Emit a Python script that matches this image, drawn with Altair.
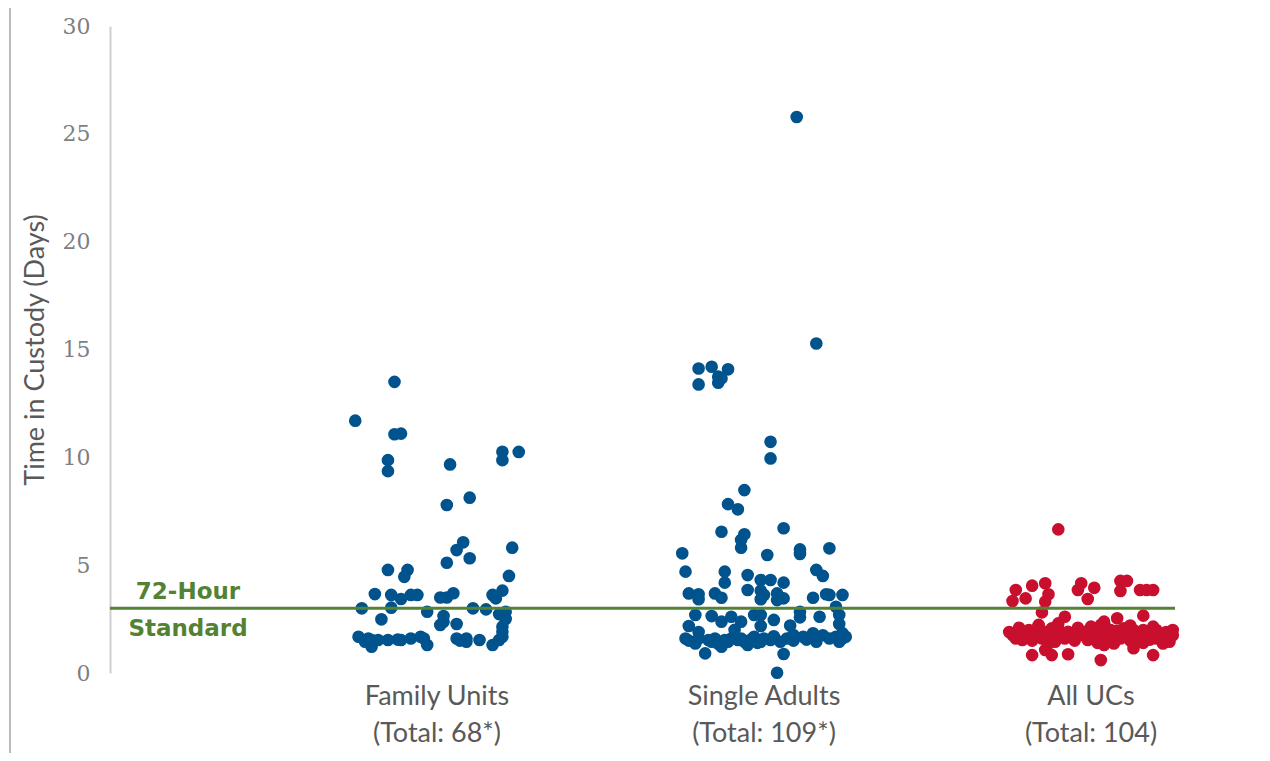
import altair as alt
import pandas as pd

# ---- data (days in custody + horizontal jitter as fraction of category spacing)
groups = ["Family Units", "Single Adults", "All UCs"]
group_labels = ["Family Units\n(Total: 68*)", "Single Adults\n(Total: 109*)", "All UCs\n(Total: 104)"]
group_pos = [1, 2, 3]
group_colors = ["#00538C", "#00538C", "#C8102E"]

family_jitter = [-0.25, -0.13, -0.13, -0.11, -0.15, -0.15, 0.04, 0.03, 0.10, 0.20, 0.20, 0.25,
                 0.08, 0.06, 0.03, 0.10, 0.23, 0.22, -0.15, -0.09, -0.10, -0.19, -0.14, -0.11,
                 -0.08, -0.06, 0.01, 0.03, 0.05, 0.17, 0.18, 0.20, -0.23, -0.14, -0.03, 0.11,
                 0.15, 0.19, 0.21, -0.17, 0.02, 0.02, 0.01, 0.06, 0.20, -0.24, -0.21, -0.20,
                 -0.20, -0.18, -0.15, -0.11, -0.08, -0.05, -0.04, -0.03, 0.06, 0.09, 0.09, 0.13,
                 0.17, 0.19, 0.20, 0.20, -0.22, -0.12, 0.07, 0.21]
family_days = [11.7, 13.5, 11.07, 11.1, 9.87, 9.36, 9.67, 7.79, 8.13, 10.26, 9.87, 10.25,
               6.06, 5.7, 5.11, 5.32, 5.81, 4.5, 4.78, 4.78, 4.46, 3.66, 3.62, 3.43,
               3.62, 3.62, 3.5, 3.5, 3.7, 3.62, 3.46, 3.82, 3.0, 3.03, 2.84, 3.0,
               2.95, 2.73, 2.84, 2.49, 2.64, 2.38, 2.23, 2.27, 2.15, 1.68, 1.6, 1.53,
               1.22, 1.53, 1.53, 1.53, 1.6, 1.68, 1.6, 1.3, 1.6, 1.6, 1.45, 1.53,
               1.3, 1.53, 1.68, 1.91, 1.45, 1.55, 1.5, 2.5]

single_jitter = [0.10, 0.16, -0.20, -0.16, -0.11, -0.14, -0.13, -0.14, -0.20, 0.02, 0.02, -0.06,
                 -0.11, -0.08, -0.13, 0.06, -0.06, -0.07, -0.07, -0.25, 0.01, 0.11, 0.11, 0.20,
                 -0.24, -0.12, -0.12, -0.05, -0.01, 0.02, 0.06, 0.16, 0.18, -0.23, -0.20, -0.20,
                 -0.15, -0.13, -0.05, -0.01, 0.00, -0.01, 0.04, 0.04, 0.06, 0.15, 0.19, 0.20,
                 0.24, 0.22, 0.11, -0.21, -0.16, -0.13, -0.10, -0.07, -0.03, -0.01, -0.01, 0.03,
                 0.11, 0.17, 0.23, 0.23, -0.23, -0.24, -0.21, -0.18, -0.17, -0.15, -0.13, -0.12,
                 -0.10, -0.08, -0.06, -0.05, -0.03, -0.01, 0.02, 0.07, 0.09, 0.12, 0.15, 0.16,
                 0.22, 0.24, 0.25, 0.06, 0.04, -0.23, -0.20, -0.16, -0.14, -0.11, -0.07, -0.04,
                 -0.02, 0.00, 0.03, 0.05, 0.09, 0.13, 0.18, 0.20, 0.23, 0.24, -0.20, -0.09, 0.08]
single_days = [25.78, 15.28, 14.12, 14.2, 14.08, 13.74, 13.66, 13.46, 13.38, 10.72, 9.95, 8.48,
               7.83, 7.59, 6.55, 6.71, 6.43, 6.17, 5.81, 5.55, 5.47, 5.73, 5.52, 5.78,
               4.7, 4.7, 4.19, 4.54, 4.31, 4.31, 4.19, 4.78, 4.5, 3.69, 3.65, 3.42,
               3.69, 3.49, 3.85, 3.82, 3.62, 3.42, 3.69, 3.38, 3.46, 3.49, 3.65, 3.62,
               3.62, 3.07, 2.84, 2.69, 2.64, 2.38, 2.61, 2.38, 2.69, 2.69, 2.18, 2.46,
               2.58, 2.61, 2.69, 2.27, 2.18, 1.6, 1.37, 0.91, 1.53, 1.6, 1.22, 1.53,
               1.6, 1.53, 1.45, 1.3, 1.68, 1.45, 1.53, 1.6, 1.76, 1.68, 1.84, 1.45,
               1.68, 1.6, 1.68, 0.88, 0.01, 1.5, 1.6, 1.45, 1.35, 1.45, 1.6, 1.55,
               1.4, 1.6, 1.7, 1.45, 1.5, 1.55, 1.75, 1.6, 1.45, 1.85, 1.9, 2.0, 2.2]

uc_jitter = [-0.10, -0.23, -0.24, -0.20, -0.18, -0.14, -0.13, -0.14, -0.03, -0.04, 0.01, -0.01,
             0.09, 0.11, 0.09, 0.15, 0.17, 0.19, -0.15, -0.08, 0.16, 0.08, 0.04,
             -0.24, -0.22, -0.21, -0.19, -0.17, -0.16, -0.13, -0.12, -0.10, -0.09, -0.07, -0.06,
             -0.04, -0.03, -0.01, 0.00, 0.02, 0.03, 0.04, 0.06, 0.07, 0.10, 0.11, 0.13,
             0.14, 0.16, 0.17, 0.20, 0.20, 0.22, 0.24, 0.25,
             -0.18, -0.14, -0.12, -0.07, 0.03, 0.13, 0.19,
             -0.25, -0.23, -0.21, -0.20, -0.18, -0.17, -0.15, -0.14, -0.12, -0.11, -0.10, -0.08,
             -0.07, -0.05, -0.04, -0.02, -0.01, 0.01, 0.02, 0.03, 0.05, 0.06, 0.07, 0.08,
             0.09, 0.10, 0.12, 0.12, 0.13, 0.15, 0.16, 0.18, 0.18, 0.19, 0.21, 0.22,
             0.23, 0.24, 0.25, -0.22, -0.13, 0.04]
uc_days = [6.66, 3.85, 3.34, 3.46, 4.05, 4.16, 3.65, 3.31, 4.16, 3.85, 3.95, 3.43,
           4.27, 4.27, 3.8, 3.85, 3.85, 3.85, 2.81, 2.61, 2.66, 2.54, 2.38,
           1.76, 1.91, 1.53, 1.99, 1.76, 2.23, 1.76, 2.07, 2.3, 1.84, 1.91, 1.68,
           1.99, 1.76, 1.53, 2.15, 1.91, 2.23, 1.68, 1.99, 1.37, 2.07, 1.91, 1.99,
           1.53, 1.99, 1.76, 1.99, 1.6, 1.37, 1.68, 1.99,
           0.83, 1.07, 0.83, 0.87, 0.6, 1.15, 0.83,
           1.9, 1.6, 1.85, 1.7, 1.5, 2.0, 1.6, 1.9, 1.7, 1.45, 2.05, 1.6,
           1.8, 1.5, 2.1, 1.8, 1.95, 1.6, 1.4, 1.85, 2.05, 1.55, 1.8, 1.95,
           1.6, 1.75, 1.5, 2.2, 1.8, 1.65, 1.4, 1.9, 1.55, 2.15, 1.75, 1.55,
           1.9, 1.45, 1.75, 2.1, 1.35, 1.3]

standard_days = 3  # 72-hour standard
y_ticks = [0, 5, 10, 15, 20, 25, 30]

rows = []
for g, pos, jit, days in [(groups[0], group_pos[0], family_jitter, family_days),
                          (groups[1], group_pos[1], single_jitter, single_days),
                          (groups[2], group_pos[2], uc_jitter, uc_days)]:
    for j, d in zip(jit, days):
        rows.append({"group": g, "x": pos + j, "days": d})
df = pd.DataFrame(rows)
labels_df = pd.DataFrame({"group": groups, "label": group_labels, "x": group_pos})

W, H = 1065, 647
xscale = alt.Scale(domain=[0, W / 327.0], nice=False, zero=False)
yscale = alt.Scale(domain=[0, 30], nice=False)

points = alt.Chart(df).mark_circle(size=160, opacity=1).encode(
    x=alt.X("x:Q", scale=xscale, axis=None),
    y=alt.Y("days:Q", scale=yscale,
            axis=alt.Axis(values=y_ticks, grid=False, ticks=False, domain=True,
                          domainColor="#d0d0d0", domainWidth=2,
                          labelFont="DejaVu Serif", labelFontSize=22, labelColor="#7f7f7f",
                          labelPadding=20,
                          title="Time in Custody (Days)", titleFont="Lato", titleFontSize=27,
                          titleFontWeight="normal", titleColor="#595959",
                          titleX=-75, titleY=H / 2, titleAngle=-90,
                          titleAlign="center", titleBaseline="middle")),
    color=alt.Color("group:N", scale=alt.Scale(domain=groups, range=group_colors), legend=None),
)

std_rule = alt.Chart(pd.DataFrame({"v": [standard_days]})).mark_rule(
    color="#548235", strokeWidth=3).encode(y=alt.Y("v:Q", scale=yscale))

std_top = alt.Chart(pd.DataFrame({"v": [standard_days], "t": ["72-Hour"]})).mark_text(
    font="DejaVu Sans", fontWeight="bold", fontSize=23, color="#548235",
    align="center", baseline="middle", dy=-16).encode(
    y=alt.Y("v:Q", scale=yscale), x=alt.value(78), text="t:N")
std_bot = alt.Chart(pd.DataFrame({"v": [standard_days], "t": ["Standard"]})).mark_text(
    font="DejaVu Sans", fontWeight="bold", fontSize=23, color="#548235",
    align="center", baseline="middle", dy=21).encode(
    y=alt.Y("v:Q", scale=yscale), x=alt.value(78), text="t:N")

cat_text = alt.Chart(labels_df).mark_text(
    font="Lato", fontSize=27, color="#595959", lineBreak="\n", lineHeight=37,
    align="center", baseline="alphabetic").encode(
    x=alt.X("x:Q", scale=xscale), y=alt.value(H + 32), text="label:N")

border = alt.Chart(pd.DataFrame({"a": [0]})).mark_rule(color="#8c8c8c", strokeWidth=1.2).encode(
    x=alt.value(-100), y=alt.value(-18), y2=alt.value(H + 80))

chart = alt.layer(border, points, std_rule, std_top, std_bot, cat_text).properties(
    width=W, height=H,
    padding={"left": 102, "top": 18, "right": 30, "bottom": 80},
    autosize=alt.AutoSizeParams(type="none"),
).configure_view(stroke=None)

chart.save("out.html", embed_options={"renderer": "svg", "actions": False})
